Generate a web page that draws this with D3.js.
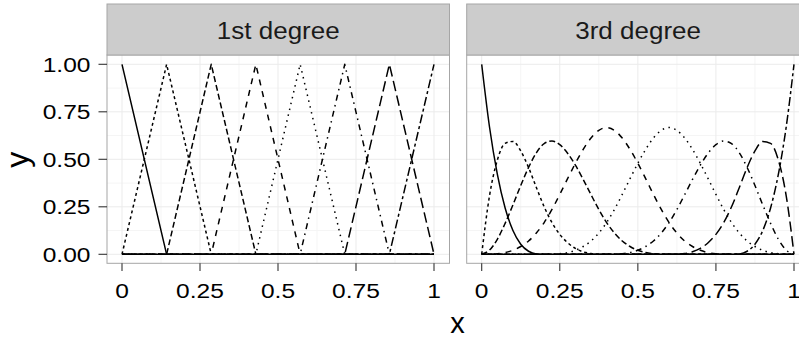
<!DOCTYPE html>
<html>
<head>
<meta charset="utf-8">
<script src="https://cdn.jsdelivr.net/npm/d3@7"></script>
<style>
  html, body { margin: 0; padding: 0; background: #fff; }
  svg { display: block; }
  text { font-family: "Liberation Sans", Arial, Helvetica, sans-serif; }
</style>
</head>
<body>
<svg id="chart" width="799" height="339"></svg>
<script>
// ---------- DATA ----------
const panels = ["1st degree", "3rd degree"];
const xTicks = [0, 0.25, 0.5, 0.75, 1];
const xTickLabels = ["0", "0.25", "0.5", "0.75", "1"];
const yTicks = [0, 0.25, 0.5, 0.75, 1];
const yTickLabels = ["0.00", "0.25", "0.50", "0.75", "1.00"];

// 1st degree: knot positions and hat-function values at the knots
const knots1 = [0, 0.143, 0.286, 0.429, 0.571, 0.714, 0.857, 1];
const lin1 = [1, 0, 0, 0, 0, 0, 0, 0];
const lin2 = [0, 1, 0, 0, 0, 0, 0, 0];
const lin3 = [0, 0, 1, 0, 0, 0, 0, 0];
const lin4 = [0, 0, 0, 1, 0, 0, 0, 0];
const lin5 = [0, 0, 0, 0, 1, 0, 0, 0];
const lin6 = [0, 0, 0, 0, 0, 1, 0, 0];
const lin7 = [0, 0, 0, 0, 0, 0, 1, 0];
const lin8 = [0, 0, 0, 0, 0, 0, 0, 1];

// 3rd degree: sample positions and values
const xs3 = [0, 0.025, 0.05, 0.075, 0.1, 0.125, 0.15, 0.175, 0.2, 0.225,
  0.25, 0.275, 0.3, 0.325, 0.35, 0.375, 0.4, 0.425, 0.45, 0.475,
  0.5, 0.525, 0.55, 0.575, 0.6, 0.625, 0.65, 0.675, 0.7, 0.725,
  0.75, 0.775, 0.8, 0.825, 0.85, 0.875, 0.9, 0.925, 0.95, 0.975, 1];
const cub1 = [1, 0.670, 0.422, 0.244, 0.125, 0.053, 0.016, 0.002, 0, 0,
  0, 0, 0, 0, 0, 0, 0, 0, 0, 0, 0, 0, 0, 0, 0, 0, 0, 0, 0, 0,
  0, 0, 0, 0, 0, 0, 0, 0, 0, 0, 0];
const cub2 = [0, 0.308, 0.496, 0.584, 0.594, 0.544, 0.457, 0.352, 0.250, 0.167,
  0.105, 0.061, 0.031, 0.013, 0.004, 0, 0, 0, 0, 0, 0, 0, 0, 0, 0, 0, 0, 0, 0, 0,
  0, 0, 0, 0, 0, 0, 0, 0, 0, 0, 0];
const cub3 = [0, 0.022, 0.079, 0.163, 0.260, 0.362, 0.457, 0.534, 0.583, 0.596,
  0.577, 0.532, 0.469, 0.394, 0.314, 0.236, 0.167, 0.112, 0.070, 0.041,
  0.021, 0.009, 0.003, 0, 0, 0, 0, 0, 0, 0, 0, 0, 0, 0, 0, 0, 0, 0, 0, 0, 0];
const cub4 = [0, 0, 0.003, 0.009, 0.021, 0.041, 0.070, 0.112, 0.167, 0.236,
  0.315, 0.398, 0.479, 0.552, 0.612, 0.652, 0.667, 0.652, 0.612, 0.552,
  0.479, 0.398, 0.315, 0.236, 0.167, 0.112, 0.070, 0.041, 0.021, 0.009,
  0.003, 0, 0, 0, 0, 0, 0, 0, 0, 0, 0];
const cub5 = [0, 0, 0, 0, 0, 0, 0, 0, 0, 0,
  0.003, 0.009, 0.021, 0.041, 0.070, 0.112, 0.167, 0.236, 0.315, 0.398,
  0.479, 0.552, 0.612, 0.652, 0.667, 0.652, 0.612, 0.552, 0.479, 0.398,
  0.315, 0.236, 0.167, 0.112, 0.070, 0.041, 0.021, 0.009, 0.003, 0, 0];
const cub6 = [0, 0, 0, 0, 0, 0, 0, 0, 0, 0, 0, 0, 0, 0, 0, 0, 0, 0,
  0.003, 0.009, 0.021, 0.041, 0.070, 0.112, 0.167, 0.236, 0.314, 0.394,
  0.469, 0.532, 0.577, 0.596, 0.583, 0.534, 0.457, 0.362, 0.260, 0.163,
  0.079, 0.022, 0];
const cub7 = [0, 0, 0, 0, 0, 0, 0, 0, 0, 0, 0, 0, 0, 0, 0, 0, 0, 0, 0, 0,
  0, 0, 0, 0, 0, 0, 0.004, 0.013, 0.031, 0.061,
  0.105, 0.167, 0.250, 0.352, 0.457, 0.544, 0.594, 0.584, 0.496, 0.308, 0];
const cub8 = [0, 0, 0, 0, 0, 0, 0, 0, 0, 0, 0, 0, 0, 0, 0, 0, 0, 0, 0, 0,
  0, 0, 0, 0, 0, 0, 0, 0, 0, 0, 0, 0, 0, 0.002, 0.016, 0.053, 0.125, 0.244,
  0.422, 0.670, 1];

// ggplot default linetype sequence
const linetypes = ["solid", "22", "42", "44", "13", "1343", "73", "2262"];

// ---------- LAYOUT ----------
const svg = d3.select("#chart");
const lw = 1.5;
const panelTop = 55, panelBottom = 263.3, stripTop = 4;
const tickFont = 21, tickStretch = 1.17;
const stripFont = 23, stripStretch = 1.13;
const panelDefs = [
  { title: panels[0], left: 107, right: 449.5, x0: 122, x1: 434,
    xs: knots1, series: [lin1, lin2, lin3, lin4, lin5, lin6, lin7, lin8], curve: d3.curveLinear },
  { title: panels[1], left: 466.7, right: 809.5, x0: 481.7, x1: 794,
    xs: xs3, series: [cub1, cub2, cub3, cub4, cub5, cub6, cub7, cub8], curve: d3.curveMonotoneX }
];
const y = d3.scaleLinear().domain([0, 1]).range([254.3, 64.3]);
const yMinor = [-0.125, 0.125, 0.375, 0.625, 0.875, 1.125].filter(v => y(v) > panelTop && y(v) < panelBottom);

function dash(lt) {
  if (lt === "solid") return null;
  return lt.split("").map(c => parseInt(c, 16) * lw).join(",");
}

panelDefs.forEach((p, pi) => {
  const x = d3.scaleLinear().domain([0, 1]).range([p.x0, p.x1]);
  const g = svg.append("g");
  const w = p.right - p.left;
  g.append("rect").attr("x", p.left).attr("y", panelTop).attr("width", w)
    .attr("height", panelBottom - panelTop).attr("fill", "#fff");
  // minor grid
  const xMinor = [-0.125, 0.125, 0.375, 0.625, 0.875, 1.125].filter(v => x(v) > p.left && x(v) < p.right);
  g.selectAll(".xmin").data(xMinor).join("line")
    .attr("x1", d => x(d)).attr("x2", d => x(d)).attr("y1", panelTop).attr("y2", panelBottom)
    .attr("stroke", "#f5f5f5").attr("stroke-width", 1);
  g.selectAll(".ymin").data(yMinor).join("line")
    .attr("x1", p.left).attr("x2", p.right).attr("y1", d => y(d)).attr("y2", d => y(d))
    .attr("stroke", "#f5f5f5").attr("stroke-width", 1);
  // major grid
  g.selectAll(".xmaj").data(xTicks).join("line")
    .attr("x1", d => x(d)).attr("x2", d => x(d)).attr("y1", panelTop).attr("y2", panelBottom)
    .attr("stroke", "#ebebeb").attr("stroke-width", 1);
  g.selectAll(".ymaj").data(yTicks).join("line")
    .attr("x1", p.left).attr("x2", p.right).attr("y1", d => y(d)).attr("y2", d => y(d))
    .attr("stroke", "#ebebeb").attr("stroke-width", 1);

  // lines
  const clipId = "clip" + pi;
  svg.append("clipPath").attr("id", clipId).append("rect")
    .attr("x", p.left).attr("y", panelTop).attr("width", w).attr("height", panelBottom - panelTop);
  const lg = g.append("g").attr("clip-path", `url(#${clipId})`);
  p.series.forEach((s, si) => {
    const line = d3.line().x((d, i) => x(p.xs[i])).y(d => y(d)).curve(p.curve);
    lg.append("path").attr("d", line(s)).attr("fill", "none")
      .attr("stroke", "#000").attr("stroke-width", lw)
      .attr("stroke-dasharray", dash(linetypes[si]))
      .attr("stroke-linejoin", "round");
  });

  // panel border
  g.append("rect").attr("x", p.left).attr("y", panelTop).attr("width", w)
    .attr("height", panelBottom - panelTop).attr("fill", "none")
    .attr("stroke", "#a6a6a6").attr("stroke-width", 1);

  // strip
  g.append("rect").attr("x", p.left).attr("y", stripTop).attr("width", w)
    .attr("height", panelTop - stripTop).attr("fill", "#cccccc")
    .attr("stroke", "#a6a6a6").attr("stroke-width", 1);
  g.append("text")
    .attr("transform", `translate(${(p.left + p.right) / 2},39.3) scale(${stripStretch},1)`)
    .attr("text-anchor", "middle").attr("font-size", stripFont).attr("fill", "#1a1a1a").text(p.title);

  // x axis
  const xa = g.append("g");
  xa.selectAll("line").data(xTicks).join("line")
    .attr("x1", d => x(d)).attr("x2", d => x(d)).attr("y1", panelBottom).attr("y2", 271)
    .attr("stroke", "#333").attr("stroke-width", 1.1);
  xa.selectAll("text").data(xTicks).join("text")
    .attr("transform", d => `translate(${x(d)},297.5) scale(${tickStretch},1)`)
    .attr("text-anchor", "middle")
    .attr("font-size", tickFont).attr("fill", "#000").text((d, i) => xTickLabels[i]);

  // y axis (left panel only)
  if (pi === 0) {
    const ya = g.append("g");
    ya.selectAll("line").data(yTicks).join("line")
      .attr("x1", 98.5).attr("x2", p.left).attr("y1", d => y(d)).attr("y2", d => y(d))
      .attr("stroke", "#333").attr("stroke-width", 1.1);
    ya.selectAll("text").data(yTicks).join("text")
      .attr("transform", d => `translate(90.5,${y(d) + 7.6}) scale(${tickStretch},1)`)
      .attr("text-anchor", "end")
      .attr("font-size", tickFont).attr("fill", "#000").text((d, i) => yTickLabels[i]);
  }
});

// axis titles
svg.append("text").attr("x", 457.5).attr("y", 332.7).attr("text-anchor", "middle")
  .attr("font-size", 29).attr("fill", "#000").text("x");
svg.append("text").attr("transform", "translate(27.6,159.7) rotate(-90)")
  .attr("text-anchor", "middle").attr("font-size", 32).attr("fill", "#000").text("y");
</script>
</body>
</html>
